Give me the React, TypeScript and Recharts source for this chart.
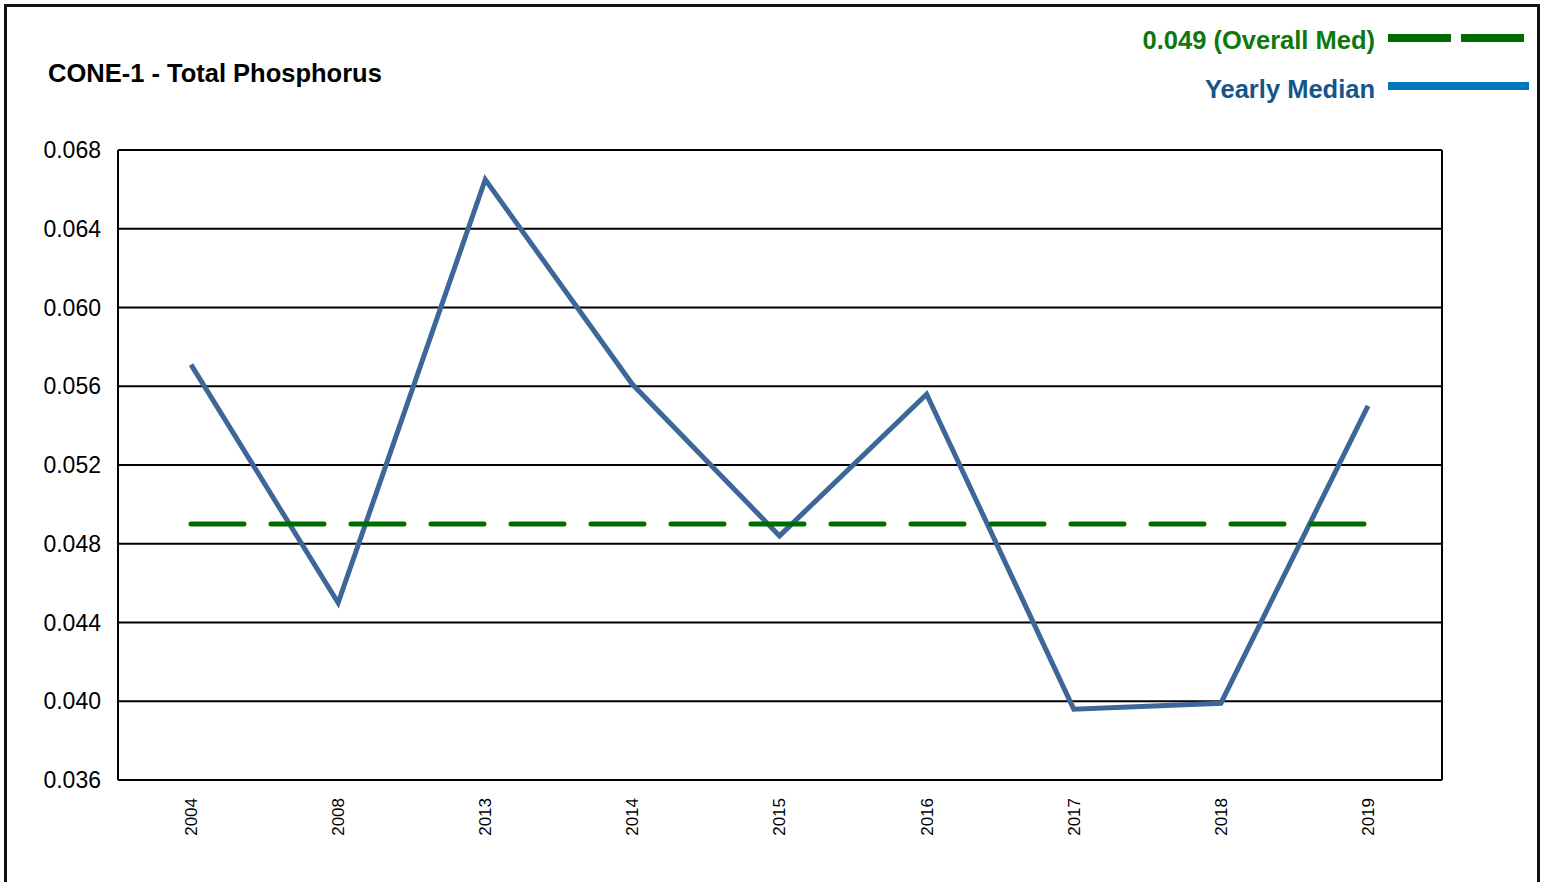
import React from "react";
import {
  LineChart, Line, XAxis, YAxis, CartesianGrid,
} from "recharts";

const years = ["2004", "2008", "2013", "2014", "2015", "2016", "2017", "2018", "2019"];
const yearlyMedian = [0.0571, 0.0450, 0.0665, 0.0561, 0.0484, 0.0556, 0.0396, 0.0399, 0.0550];
const overallMedian = 0.049;
const yTicks = [0.036, 0.040, 0.044, 0.048, 0.052, 0.056, 0.060, 0.064, 0.068];

const data = years.map((year, i) => ({
  year,
  median: yearlyMedian[i],
  overall: overallMedian,
}));

const FONT = "'Liberation Sans', Arial, Helvetica, sans-serif";

// rotated year labels under the plot
function YearTick(props: any) {
  const { x, y, payload } = props;
  return (
    <g transform={`translate(${x},${y + 10})`}>
      <text
        transform="rotate(-90)"
        textAnchor="end"
        dy="0.35em"
        fontSize={17}
        fontFamily={FONT}
        fill="#000"
      >
        {payload.value}
      </text>
    </g>
  );
}

export default function App() {
  return (
    <div
      style={{
        position: "absolute", left: 0, top: 0, width: 1546, height: 882,
        overflow: "hidden", background: "#fff", fontFamily: FONT,
      }}
    >
      {/* outer frame */}
      <div
        style={{
          position: "absolute", left: 4, top: 4, width: 1530, height: 900,
          border: "3px solid #111",
        }}
      />

      <div
        style={{
          position: "absolute", left: 48, top: 61, fontSize: 25.5, lineHeight: 1,
          fontWeight: "bold", color: "#000", whiteSpace: "nowrap",
        }}
      >
        CONE-1 - Total Phosphorus
      </div>

      {/* legend */}
      <div
        style={{
          position: "absolute", right: 1546 - 1375, top: 28, fontSize: 25.5, lineHeight: 1,
          fontWeight: "bold", color: "#0d780d", whiteSpace: "nowrap",
        }}
      >
        {`0.049 (Overall Med)`}
      </div>
      <svg style={{ position: "absolute", left: 1388, top: 34 }} width={142} height={8}>
        <line x1={0} y1={4} x2={141} y2={4} stroke="#006c00" strokeWidth={8} strokeDasharray="63 10" />
      </svg>
      <div
        style={{
          position: "absolute", right: 1546 - 1375, top: 77, fontSize: 25.5, lineHeight: 1,
          fontWeight: "bold", color: "#15568a", whiteSpace: "nowrap",
        }}
      >
        Yearly Median
      </div>
      <svg style={{ position: "absolute", left: 1388, top: 82 }} width={142} height={8}>
        <line x1={0} y1={4} x2={141} y2={4} stroke="#0277bd" strokeWidth={8} />
      </svg>

      <div style={{ position: "absolute", left: 0, top: 0 }}>
        <LineChart
          width={1546}
          height={882}
          data={data}
          margin={{ top: 150, right: 103, left: 48, bottom: 42 }}
        >
          <CartesianGrid vertical={false} stroke="#000" strokeWidth={2} />
          <XAxis
            dataKey="year"
            padding={{ left: 73, right: 74 }}
            axisLine={{ stroke: "#000", strokeWidth: 2 }}
            tickLine={false}
            tick={<YearTick />}
            interval={0}
            height={60}
          />
          <YAxis
            domain={[0.036, 0.068]}
            ticks={yTicks}
            tickFormatter={(v: number) => v.toFixed(3)}
            axisLine={{ stroke: "#000", strokeWidth: 2 }}
            tickLine={false}
            tickSize={0}
            tickMargin={17}
            width={70}
            tick={{ fontSize: 23, fill: "#000", fontFamily: FONT }}
          />
          <YAxis
            yAxisId="right"
            orientation="right"
            domain={[0.036, 0.068]}
            ticks={yTicks}
            axisLine={{ stroke: "#000", strokeWidth: 2 }}
            tickLine={false}
            tick={false}
            width={1}
          />
          <Line
            type="linear"
            dataKey="median"
            stroke="#3d6699"
            strokeWidth={5}
            dot={false}
            isAnimationActive={false}
          />
          <Line
            yAxisId="right"
            type="linear"
            dataKey="overall"
            stroke="#006c00"
            strokeWidth={5}
            strokeDasharray="53 27"
            strokeLinecap="round"
            dot={false}
            isAnimationActive={false}
          />
        </LineChart>
      </div>
    </div>
  );
}
